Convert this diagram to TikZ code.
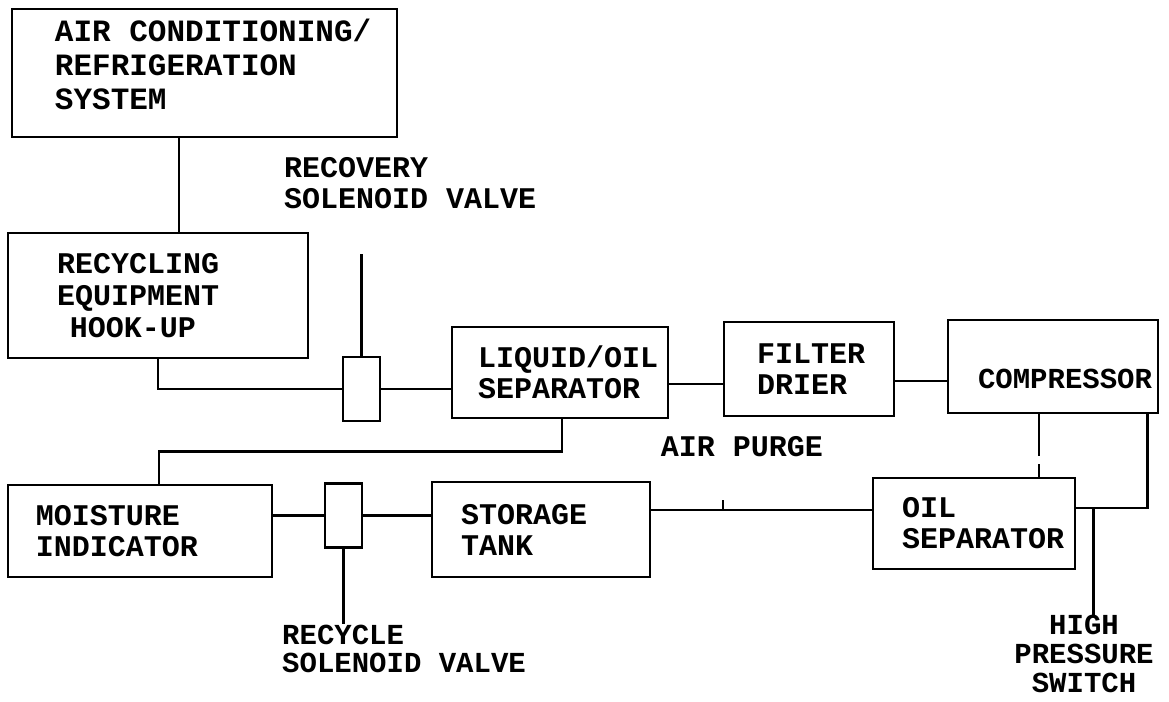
\documentclass[tikz,border=0pt]{standalone}
\usepackage{fontspec}
\setmonofont{Liberation Mono}
\usetikzlibrary{positioning}

\begin{document}
\begin{tikzpicture}[
  x=1pt, y=-1pt,
  box/.style={rectangle, draw=black, line width=2.8pt, inner sep=0pt, align=left, font=\ttfamily\bfseries\fontsize{30}{31}\selectfont},
  lpad/.style={execute at begin node={\leftskip=#1\spaceskip=0pt\relax}},
  valve/.style={rectangle, draw=black, line width=2.8pt, inner sep=0pt, minimum width=37pt, minimum height=64pt},
  tag/.style={inner sep=0pt, align=left, font=\ttfamily\bfseries\fontsize{30}{31}\selectfont},
  pipe/.style={line width=2.8pt}
]
\useasboundingbox (0,0) rectangle (1169,701);

\node[box, text width=385pt, minimum height=128pt, lpad=43pt, font=\ttfamily\bfseries\fontsize{31}{34}\selectfont] (acsys) at (204.5,73) {AIR CONDITIONING/\\REFRIGERATION\\SYSTEM\rule[-18pt]{0pt}{18pt}};
\node[box, text width=300pt, minimum height=125pt, lpad=49pt, font=\ttfamily\bfseries\fontsize{30}{32}\selectfont] (hookup) at (158,295.5) {RECYCLING\\EQUIPMENT\\\hspace*{13pt}HOOK-UP};
\node[valve] (recvalve) at (361.5,389) {};
\node[box, text width=216pt, minimum height=91pt, lpad=26pt] (liqsep) at (560,372.5) {LIQUID/OIL\\SEPARATOR};
\node[box, text width=170pt, minimum height=94pt, lpad=33pt] (filter) at (809,369) {FILTER\\DRIER};
\node[box, text width=210pt, minimum height=93pt, lpad=30pt, font=\ttfamily\bfseries\fontsize{29}{31}\selectfont] (comp) at (1053,366.5) {\rule{0pt}{44pt}COMPRESSOR};
\node[box, text width=264pt, minimum height=92pt, lpad=28pt] (moisture) at (140,531) {MOISTURE\\INDICATOR};
\node[valve] (recyvalve) at (343.5,515.5) {};
\node[box, text width=218pt, minimum height=95pt, lpad=29pt] (storage) at (541,529.5) {STORAGE\\TANK};
\node[box, text width=202pt, minimum height=91pt, lpad=29pt] (oilsep) at (974,523.5) {OIL\\SEPARATOR};

% labels
\node[tag, anchor=west] (reclabel) at (284,183.5) {RECOVERY\\SOLENOID VALVE};
\node[tag] (airpurge) at (742,447) {AIR PURGE};
\node[tag, anchor=west, font=\ttfamily\bfseries\fontsize{29}{28}\selectfont] (recylabel) at (282,648.5) {RECYCLE\\SOLENOID VALVE};
\node[tag, align=center, font=\ttfamily\bfseries\fontsize{29}{29}\selectfont] (hps) at (1084,654) {HIGH\\PRESSURE\\SWITCH};

% piping
\draw[pipe] ([xshift=-25.5pt]acsys.south) -- ([xshift=-25.5pt]acsys.south |- hookup.north);
\draw[pipe] (hookup.south) |- (recvalve.west);
\draw[pipe] (recvalve.north) -- ++(0,-102);
\draw[pipe] (recvalve.east) -- (recvalve.east -| liqsep.west);
\draw[pipe] ([yshift=-15pt]filter.west) -- ([yshift=-15pt]filter.west -| liqsep.east);
\draw[pipe] ([yshift=-12pt]filter.east) -- ([yshift=-12pt]filter.east -| comp.west);
\draw[pipe] ([xshift=2pt]liqsep.south) -- ++(0,32) -| ([xshift=19pt]moisture.north);
\draw[pipe] (recyvalve.west) -- (recyvalve.west -| moisture.east);
\draw[pipe] (recyvalve.east) -- (recyvalve.east -| storage.west);
\draw[pipe] (recyvalve.south) -- (recyvalve.south |- recylabel.north);
\draw[pipe] ([yshift=19.5pt]storage.east) -- ([yshift=19.5pt]storage.east -| oilsep.west);
\coordinate (purge) at (723,510);
\draw[pipe] (purge) -- ++(0,-10);
\draw[pipe, dash pattern=on 42pt off 8pt] ([xshift=-14pt]comp.south) -- ([xshift=-14pt]comp.south |- oilsep.north);
\draw[pipe] ([xshift=-12pt]comp.south east) |- ([yshift=15.5pt]oilsep.east);
\coordinate (hpj) at ([xshift=17pt,yshift=15.5pt]oilsep.east);
\draw[pipe] (hpj) -- (hpj |- hps.north);
\end{tikzpicture}
\end{document}
